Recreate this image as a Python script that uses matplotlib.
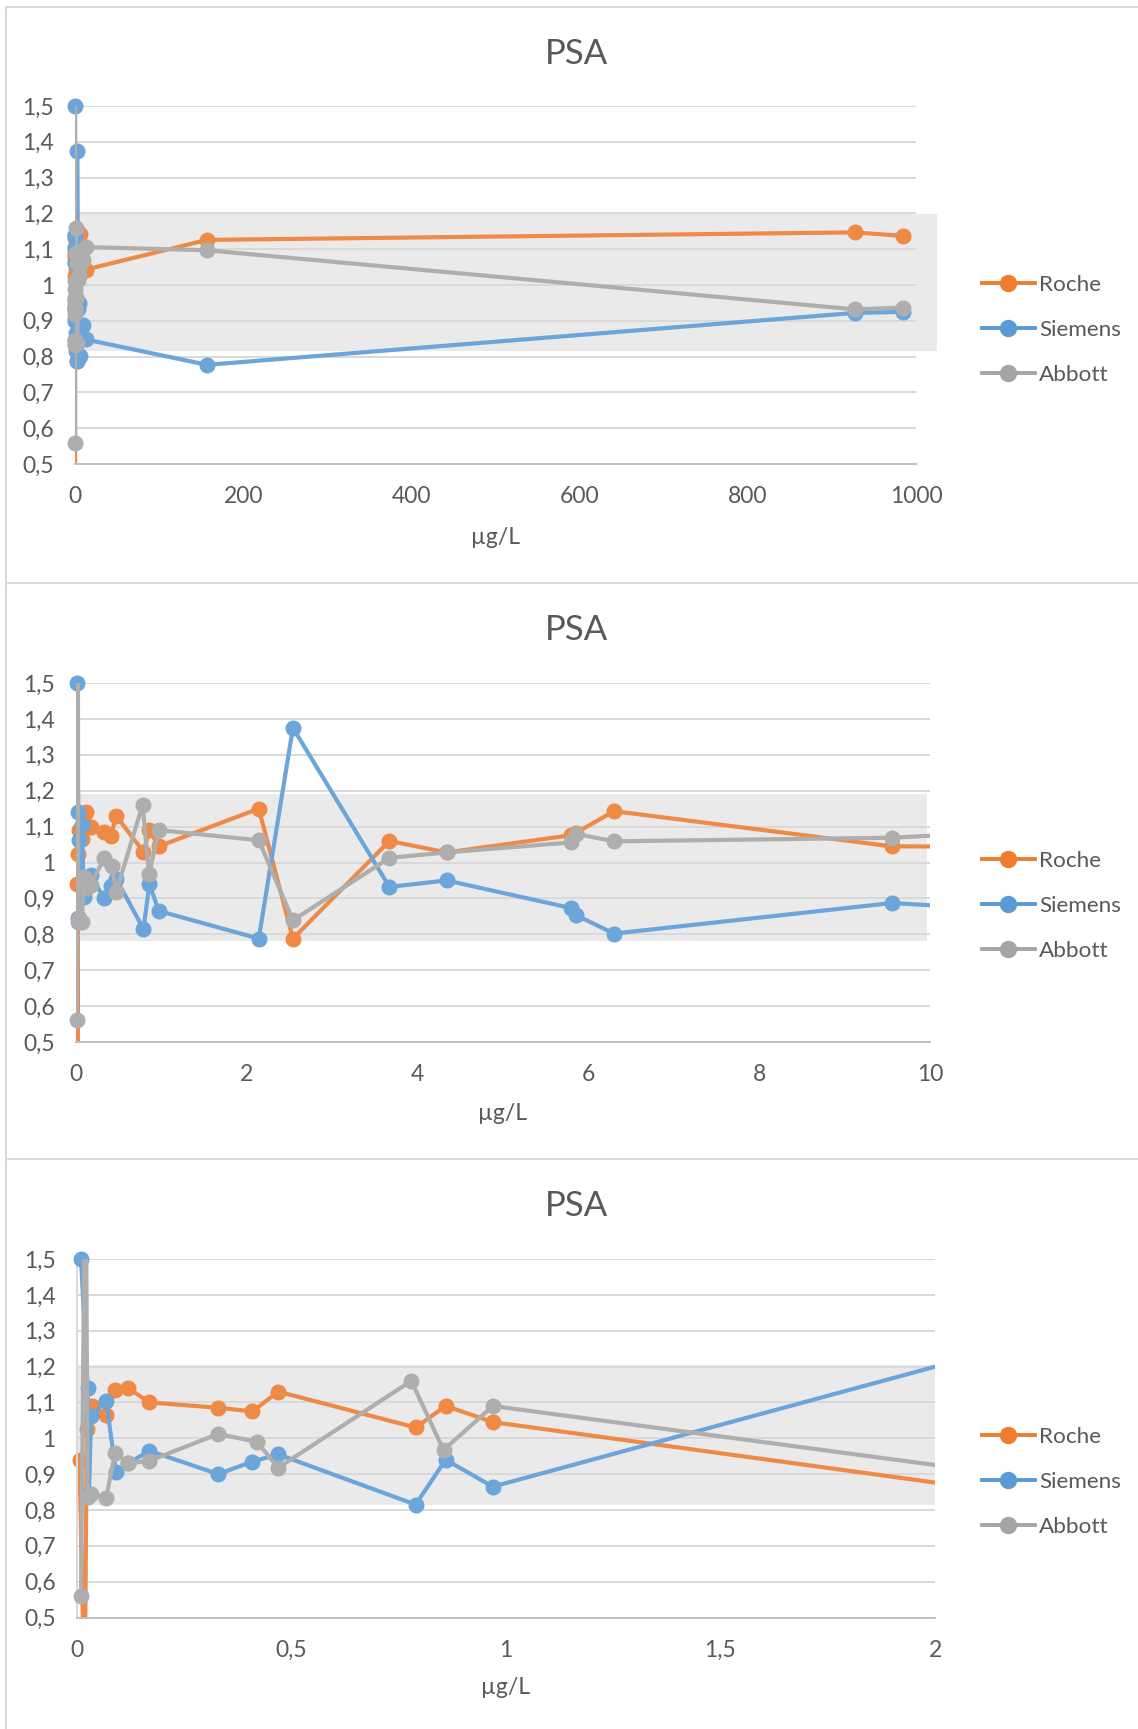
import matplotlib
matplotlib.use('Agg')
import matplotlib.pyplot as plt
import matplotlib.transforms as mtransforms
import numpy as np
from matplotlib.lines import Line2D
from matplotlib.patches import Rectangle
from matplotlib.ticker import FuncFormatter, MultipleLocator

plt.rcParams['font.family'] = ['Lato', 'DejaVu Sans']

# ratio per assay against PSA concentration (µg/L)
roche_x = [0.007, 0.019, 0.024, 0.035, 0.068, 0.09, 0.12, 0.17, 0.33, 0.41, 0.47, 0.79, 0.86, 0.97,
           2.14, 2.54, 3.67, 4.34, 5.8, 5.85, 6.3, 9.55, 12.5, 157, 927, 985]
roche_y = [0.94, 0.25, 1.025, 1.09, 1.065, 1.135, 1.14, 1.10, 1.085, 1.075, 1.13, 1.03, 1.09, 1.045,
           1.15, 0.788, 1.06, 1.028, 1.076, 1.082, 1.143, 1.045, 1.043, 1.126, 1.147, 1.137]

siemens_x = [0.0105, 0.026, 0.029, 0.034, 0.069, 0.092, 0.12, 0.17, 0.33, 0.41, 0.47, 0.79, 0.86, 0.97,
             2.14, 2.54, 3.67, 4.34, 5.8, 5.85, 6.3, 9.55, 12.5, 157, 927, 985]
siemens_y = [1.5, 1.14, 0.845, 1.062, 1.105, 0.905, 0.93, 0.965, 0.90, 0.935, 0.955, 0.815, 0.94, 0.865,
             0.788, 1.375, 0.932, 0.95, 0.873, 0.854, 0.802, 0.887, 0.848, 0.777, 0.922, 0.925]

abbott_x = [0.0105, 0.021, 0.026, 0.034, 0.069, 0.09, 0.12, 0.17, 0.33, 0.42, 0.47, 0.78, 0.855, 0.97,
            2.14, 2.54, 3.67, 4.34, 5.8, 5.85, 6.3, 9.55, 12.5, 157, 927, 985]
abbott_y = [0.56, 1.9, 0.835, 0.845, 0.833, 0.96, 0.93, 0.937, 1.012, 0.99, 0.918, 1.16, 0.967, 1.09,
            1.062, 0.839, 1.013, 1.028, 1.056, 1.08, 1.059, 1.069, 1.106, 1.097, 0.932, 0.937]

series_names = ['Roche', 'Siemens', 'Abbott']

# three views of the same data
x_max = [1000, 10, 2]
x_step = [200, 2, 0.5]
omitted = [[], [], [2.14]]          # sample left out of the low-range chart
band_low = [0.815, 0.781, 0.814]
band_high = [1.199, 1.19, 1.205]

W, H = 1138, 1729
TXT = '#595959'
colors = ['#ED7D31', '#5B9BD5', '#A5A5A5']


def lighten(c, f=0.9):
    rgb = np.array(matplotlib.colors.to_rgb(c))
    return tuple(rgb * f + (1 - f))


def px_rect(l, t, r, b):
    return [l / W, 1 - b / H, (r - l) / W, (b - t) / H]


plot_px = [(75, 106, 916, 464), (76, 683, 930, 1042), (76.5, 1259, 935, 1617.5)]
title_y = [54, 630.5, 1206]
xlabel_y = [537, 1114, 1688]
legend_y = [330, 906, 1482]
band_x = [(0.0, 1.025), (0.0, 0.997), (0.0, 1.0)]

fig = plt.figure(figsize=(W / 100, H / 100), dpi=100)

# chart borders
for yb in [7, 583, 1159]:
    fig.add_artist(Line2D([6 / W, 1], [1 - yb / H] * 2, transform=fig.transFigure, color='#D9D9D9', lw=1.5))
fig.add_artist(Line2D([6 / W] * 2, [0, 1 - 7 / H], transform=fig.transFigure, color='#D9D9D9', lw=1.5))

series = [(roche_x, roche_y), (siemens_x, siemens_y), (abbott_x, abbott_y)]
fmt = FuncFormatter(lambda v, p: f'{v:g}'.replace('.', ','))

for i in range(3):
    l, t, r, b = plot_px[i]
    ax = fig.add_axes(px_rect(l, t, r, b))
    ax.set_xlim(0, x_max[i])
    ax.set_ylim(0.5, 1.5)
    ax.xaxis.set_major_locator(MultipleLocator(x_step[i]))
    ax.yaxis.set_major_locator(MultipleLocator(0.1))
    ax.xaxis.set_major_formatter(fmt)
    ax.yaxis.set_major_formatter(fmt)
    ax.tick_params(length=0, labelsize=16.5, labelcolor=TXT)
    ax.tick_params(axis='y', pad=15)
    ax.tick_params(axis='x', pad=16)
    ax.set_axisbelow(True)
    ax.yaxis.grid(True, color='#D9D9D9', lw=1.4)
    for s in ['top', 'right', 'left']:
        ax.spines[s].set_visible(False)
    ax.spines['bottom'].set_color('#BFBFBF')
    ax.spines['bottom'].set_linewidth(1.4)
    if i == 2:
        ax.spines['left'].set_visible(True)
        ax.spines['left'].set_color('#D9D9D9')
        ax.spines['left'].set_linewidth(1.4)

    trans = mtransforms.blended_transform_factory(ax.transAxes, ax.transData)
    x0, x1 = band_x[i]
    ax.add_patch(Rectangle((x0, band_low[i]), x1 - x0, band_high[i] - band_low[i], transform=trans,
                           facecolor='#EAEAEA', edgecolor='none', zorder=0.3, clip_on=False))

    for k, (xs, ys) in enumerate(series):
        xs = np.array(xs)
        ys = np.array(ys)
        keep = ~np.isin(xs, omitted[i])
        xs, ys = xs[keep], ys[keep]
        col = lighten(colors[k])
        ax.plot(xs, ys, color=col, lw=3.0, zorder=2 + k, solid_joinstyle='round')
        inside = (xs <= x_max[i]) & (ys >= 0.5) & (ys <= 1.5)
        ax.plot(xs[inside], ys[inside], 'o', ms=10.5, color=col, zorder=2 + k, clip_on=False)

    handles = [Line2D([], [], color=c, lw=2.8, marker='o', ms=11.5) for c in colors]
    ax.legend(handles, series_names, loc='center left', bbox_to_anchor=(982 / W, 1 - legend_y[i] / H),
              bbox_transform=fig.transFigure, frameon=False, fontsize=16.2, handlelength=2.35,
              handletextpad=0.2, labelspacing=1.12, borderpad=0, borderaxespad=0, labelcolor=TXT)

    fig.text(577 / W, 1 - title_y[i] / H, 'PSA', ha='center', va='center', fontsize=25, color=TXT)
    fig.text((l + r) / 2 / W, 1 - xlabel_y[i] / H, 'µg/L', ha='center', va='center', fontsize=16.5, color=TXT)

fig.savefig('out.png', dpi=100)
